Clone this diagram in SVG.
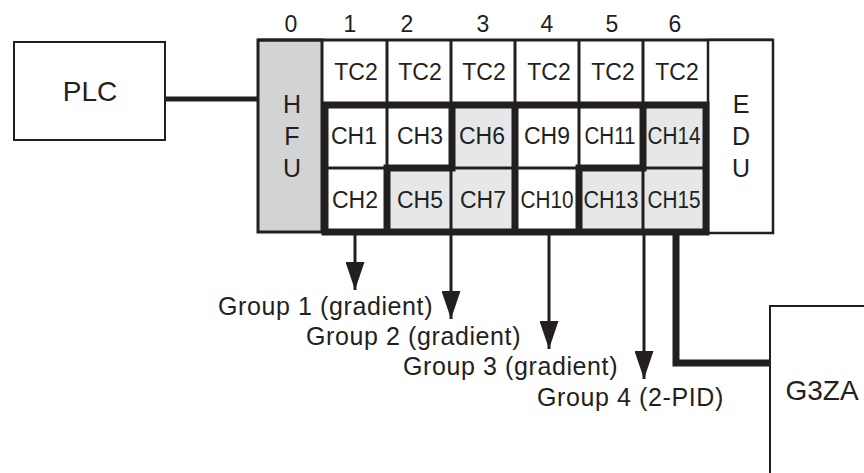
<svg xmlns="http://www.w3.org/2000/svg" width="864" height="473" viewBox="0 0 864 473">
<style>
text{font-family:"Liberation Sans",Arial,Helvetica,sans-serif;fill:#231f20;text-anchor:middle}
.big{font-size:28px}
.mid{font-size:25px}
.cell{font-size:23px}
.num{font-size:23px}
.grp{font-size:25px;text-anchor:start;letter-spacing:0.6px}
.box{fill:#fff;stroke:#231f20;stroke-width:2}
.thin{stroke:#231f20;stroke-width:3;fill:none}
.thick{stroke:#231f20;stroke-width:7;fill:none}
.shade{fill:#e6e7e8}
.wire{stroke:#231f20;fill:none}
</style>
<defs>
<marker id="ah" markerUnits="userSpaceOnUse" markerWidth="28" markerHeight="19" refX="28" refY="9.5" orient="auto" viewBox="0 0 28 19">
<path d="M0,0 L28,9.5 L0,19 Z" fill="#231f20"/>
</marker>
</defs>
<rect width="864" height="473" fill="#fff"/>

<g id="plc">
<rect class="box" x="14" y="42" width="151" height="98"/>
<text class="big" x="90" y="101">PLC</text>
</g>

<g id="hfu">
<rect x="258" y="40" width="64" height="192" fill="#d1d3d4" stroke="#231f20" stroke-width="3"/>
<text class="mid" x="292" y="113">H</text>
<text class="mid" x="292" y="145">F</text>
<text class="mid" x="292" y="177">U</text>
</g>

<g id="slot-numbers">
<text class="num" x="291" y="32">0</text>
<text class="num" x="350" y="32">1</text>
<text class="num" x="407" y="32">2</text>
<text class="num" x="483" y="32">3</text>
<text class="num" x="547" y="32">4</text>
<text class="num" x="612" y="32">5</text>
<text class="num" x="675" y="32">6</text>
</g>

<g id="tc2-row">
<path class="thin" d="M258,40 H773 M387,40 V105 M451,40 V105 M515,40 V105 M579,40 V105 M643,40 V105"/>
<text class="cell" x="356" y="80">TC2</text>
<text class="cell" x="420" y="80">TC2</text>
<text class="cell" x="484" y="80">TC2</text>
<text class="cell" x="549" y="80">TC2</text>
<text class="cell" x="613" y="80">TC2</text>
<text class="cell" x="677" y="80">TC2</text>
</g>

<g id="edu">
<rect x="708" y="40" width="65" height="193" fill="#fff" stroke="#231f20" stroke-width="2.5"/>
<text class="mid" x="741" y="113">E</text>
<text class="mid" x="741" y="145">D</text>
<text class="mid" x="741" y="177">U</text>
</g>

<g id="channels">
<rect class="shade" x="387" y="168" width="64" height="64"/>
<rect class="shade" x="451" y="105" width="64" height="127"/>
<rect class="shade" x="579" y="168" width="64" height="64"/>
<rect class="shade" x="643" y="105" width="63" height="127"/>
<path class="thin" d="M325,168 H387 M451,168 H706 M387,105 V168 M579,105 V168 M451,168 V232 M643,168 V232"/>
<rect class="thick" x="325" y="105" width="381" height="127"/>
<path class="thick" d="M387,232 V168 H452 V105 M515,105 V232 M579,232 V168 H643 V105"/>
<text class="cell" x="354" y="144">CH1</text>
<text class="cell" x="420" y="144">CH3</text>
<text class="cell" x="482" y="144">CH6</text>
<text class="cell" x="547" y="144">CH9</text>
<text class="cell" x="610" y="144" textLength="51" lengthAdjust="spacingAndGlyphs">CH11</text>
<text class="cell" x="674" y="144" textLength="53" lengthAdjust="spacingAndGlyphs">CH14</text>
<text class="cell" x="355" y="208">CH2</text>
<text class="cell" x="420" y="208">CH5</text>
<text class="cell" x="483" y="208">CH7</text>
<text class="cell" x="547" y="208" textLength="53" lengthAdjust="spacingAndGlyphs">CH10</text>
<text class="cell" x="611" y="208" textLength="55" lengthAdjust="spacingAndGlyphs">CH13</text>
<text class="cell" x="674" y="208" textLength="53" lengthAdjust="spacingAndGlyphs">CH15</text>
</g>

<g id="g3za">
<rect class="box" x="770" y="306" width="120" height="200"/>
<text class="big" x="822" y="400">G3ZA</text>
</g>

<g id="connectors">
<path class="wire" stroke-width="5" d="M165,99 H258"/>
<path class="wire" stroke-width="7" d="M676,233 V363 H770"/>
<path class="wire" stroke-width="3" marker-end="url(#ah)" d="M355,235 V290"/>
<path class="wire" stroke-width="3" marker-end="url(#ah)" d="M451,235 V319"/>
<path class="wire" stroke-width="3" marker-end="url(#ah)" d="M549,235 V349"/>
<path class="wire" stroke-width="3" marker-end="url(#ah)" d="M644,235 V379"/>
</g>

<g id="group-labels">
<text class="grp" x="218" y="315">Group 1 (gradient)</text>
<text class="grp" x="306" y="345">Group 2 (gradient)</text>
<text class="grp" x="403" y="375">Group 3 (gradient)</text>
<text class="grp" x="537" y="406">Group 4 (2-PID)</text>
</g>
</svg>
